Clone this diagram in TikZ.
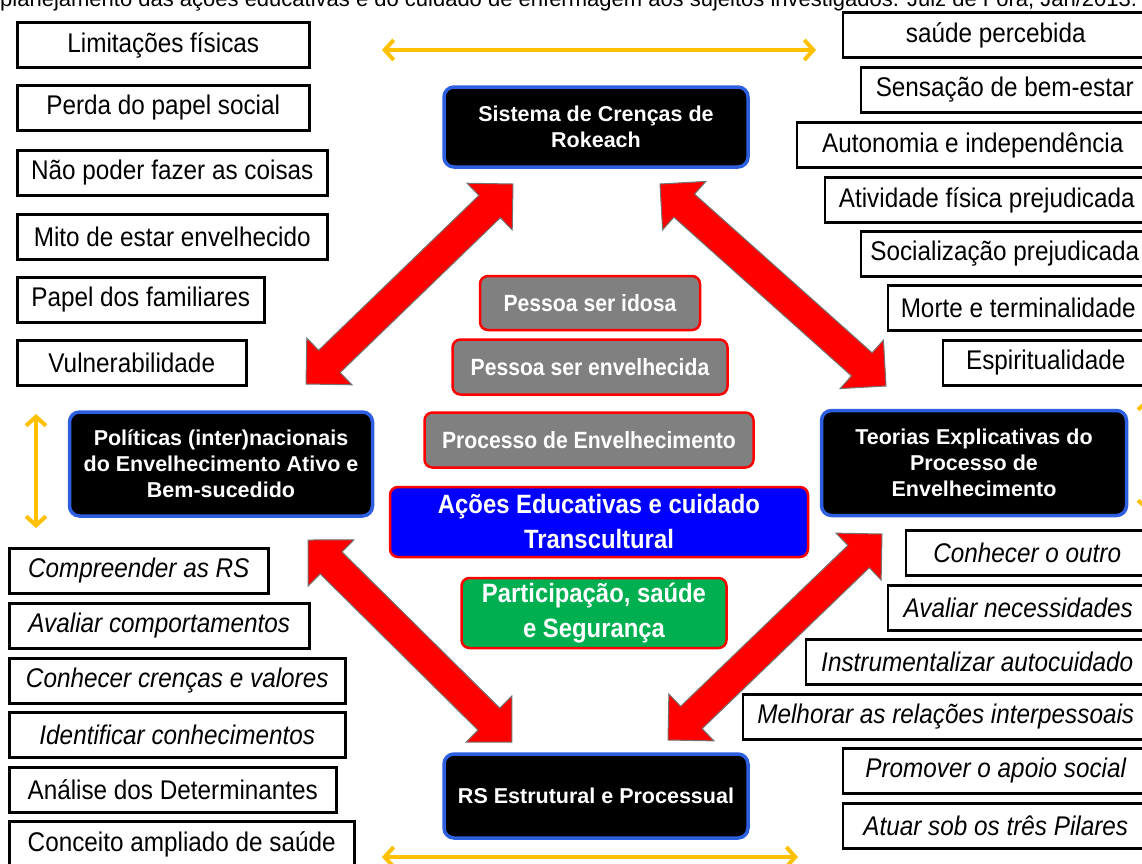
\documentclass[tikz,border=0pt]{standalone}
\usepackage{fontspec}
\setmainfont{Liberation Sans}
\newfontfamily\narrowfont[FakeStretch=0.9]{Liberation Sans}
\usetikzlibrary{shapes.arrows,calc,arrows.meta}
\definecolor{frameblue}{RGB}{45,95,225}
\definecolor{arrowyellow}{RGB}{255,192,0}
\definecolor{boxgray}{RGB}{128,128,128}
\definecolor{boxgreen}{RGB}{0,176,80}
\definecolor{boxblue}{RGB}{0,0,255}
\tikzset{
  item/.style={draw,line width=2.5pt,minimum height=45pt,inner sep=0pt,font=\narrowfont\fontsize{27}{32}\selectfont},
  itemit/.style={item,font=\narrowfont\itshape\fontsize{27}{32}\selectfont},
  theme/.style={draw=frameblue,fill=black,text=white,line width=3.5pt,rounded corners=10pt,align=center,inner sep=0pt,font=\bfseries\fontsize{21.5}{26}\selectfont},
  core/.style={draw=red,line width=2.5pt,rounded corners=8pt,text=white,align=center,inner sep=0pt},
  redarrow/.style={double arrow,fill=red,draw=black!55,line width=1pt,inner sep=0pt,inner ysep=15pt,double arrow head extend=17pt},
  yellowarrow/.style={draw=arrowyellow,line width=4pt,{Straight Barb[length=9pt,width=20pt]}-{Straight Barb[length=9pt,width=20pt]}}
}
\begin{document}
\begin{tikzpicture}[x=1pt,y=-1pt]
        \useasboundingbox (0,0) rectangle (1142,863);
        %% caption line, cut at the top
        \node[anchor=base west,inner sep=0pt,font=\fontsize{22}{26}\selectfont] (caption) at (0,6) {planejamento das ações educativas e do cuidado de enfermagem aos sujeitos investigados. Juiz de Fora, Jan/2013.};
        %% left list, top
        \node[item,anchor=west,minimum width=292pt] (lim) at (16,45) {Limitações físicas};
        \node[item,anchor=west,minimum width=292pt] (perda) at (16,108) {Perda do papel social};
        \node[item,anchor=west,minimum width=310pt] (naopoder) at (16,173) {Não poder fazer as coisas};
        \node[item,anchor=west,minimum width=310pt] (mito) at (16,237) {Mito de estar envelhecido};
        \node[item,anchor=west,minimum width=247pt] (familia) at (16,300) {Papel dos familiares};
        \node[item,anchor=west,minimum width=229pt] (vuln) at (16,363) {Vulnerabilidade};
        %% right list, top
        \node[item,anchor=east,minimum width=306pt] (percebida) at (1150,35) {saúde percebida};
        \node[item,anchor=east,minimum width=288pt] (bemestar) at (1150,90) {Sensação de bem-estar};
        \node[item,anchor=east,minimum width=352pt] (autonomia) at (1150,145) {Autonomia e independência};
        \node[item,anchor=east,minimum width=324pt] (atividade) at (1150,200) {Atividade física prejudicada};
        \node[item,anchor=east,minimum width=288pt] (socializ) at (1150,254) {Socialização prejudicada};
        \node[item,anchor=east,minimum width=261pt] (morte) at (1150,308) {Morte e terminalidade};
        \node[item,anchor=east,minimum width=206pt] (espirit) at (1150,363) {Espiritualidade};
        %% left list, bottom
        \node[itemit,anchor=west,minimum width=259pt] (compreender) at (8,571) {Compreender as RS};
        \node[itemit,anchor=west,minimum width=300pt] (comport) at (8,626) {Avaliar comportamentos};
        \node[itemit,anchor=west,minimum width=336pt] (crencas) at (8,681) {Conhecer crenças e valores};
        \node[itemit,anchor=west,minimum width=336pt] (conhec) at (8,735) {Identificar conhecimentos};
        \node[item,anchor=west,minimum width=327pt] (determ) at (8,790) {Análise dos Determinantes};
        \node[item,anchor=west,minimum width=345pt] (conceito) at (8,844) {Conceito ampliado de saúde};
        %% right list, bottom
        \node[itemit,anchor=east,minimum width=243pt] (outro) at (1150,553) {Conhecer o outro};
        \node[itemit,anchor=east,minimum width=261pt] (necess) at (1150,608) {Avaliar necessidades};
        \node[itemit,anchor=east,minimum width=343pt] (autocuid) at (1150,662) {Instrumentalizar autocuidado};
        \node[itemit,anchor=east,minimum width=406pt] (relacoes) at (1150,717) {Melhorar as relações interpessoais};
        \node[itemit,anchor=east,minimum width=306pt] (apoio) at (1150,771) {Promover o apoio social};
        \node[itemit,anchor=east,minimum width=306pt] (pilares) at (1150,826) {Atuar sob os três Pilares};
        %% four themes
        \node[theme,minimum width=304pt,minimum height=80pt] (rokeach) at (596,127) {Sistema de Crenças de\\Rokeach};
        \node[theme,minimum width=303pt,minimum height=104pt] (politicas) at (221,464) {Políticas (inter)nacionais\\do Envelhecimento Ativo e\\Bem-sucedido};
        \node[theme,minimum width=305pt,minimum height=105pt] (teorias) at (974,463) {Teorias Explicativas do\\Processo de\\Envelhecimento};
        \node[theme,minimum width=304pt,minimum height=84pt] (estrutural) at (596,796) {RS Estrutural e Processual};
        %% centre
        \node[core,fill=boxgray,minimum width=220pt,minimum height=54pt,font=\narrowfont\bfseries\fontsize{23.5}{28}\selectfont] (idosa) at (590,303) {Pessoa ser idosa};
        \node[core,fill=boxgray,minimum width=275pt,minimum height=55pt,font=\narrowfont\bfseries\fontsize{23.5}{28}\selectfont] (envelhecida) at (590,367) {Pessoa ser envelhecida};
        \node[core,fill=boxgray,minimum width=329pt,minimum height=55pt,font=\narrowfont\bfseries\fontsize{23.5}{28}\selectfont] (processo) at (589,440) {Processo de Envelhecimento};
        \node[core,fill=boxblue,minimum width=418pt,minimum height=70pt,font=\narrowfont\bfseries\fontsize{26.5}{35}\selectfont] (acoes) at (599,522) {Ações Educativas e cuidado\\Transcultural};
        \node[core,fill=boxgreen,minimum width=265pt,minimum height=70pt,font=\narrowfont\bfseries\fontsize{26.5}{35}\selectfont] (particip) at (594,613) {Participação, saúde\\e Segurança};
        %% red arrows between the themes
        \coordinate (tl1) at (306,384); \coordinate (tl2) at (513,184);
        \coordinate (tr1) at (660,184); \coordinate (tr2) at (886,386);
        \coordinate (bl1) at (308,540); \coordinate (bl2) at (512,742);
        \coordinate (br1) at (668,740); \coordinate (br2) at (882,534);
        \foreach \a/\b in {tl1/tl2,tr1/tr2,bl1/bl2,br1/br2}
          \path let \p1=($(\b)-(\a)$), \n1={veclen(\x1,\y1)} in
            (\a) -- (\b) node[redarrow,midway,sloped,minimum height=\n1] {};
        %% yellow arrows
        \coordinate (topL) at (382,50); \coordinate (topR) at (816,50);
        \coordinate (botL) at (382,857); \coordinate (botR) at (798,857);
        \coordinate (leftT) at (36,414); \coordinate (leftB) at (36,528);
        \coordinate (rightT) at (1148,398); \coordinate (rightB) at (1148,512);
        \draw[yellowarrow] (topL) -- (topR);
        \draw[yellowarrow] (botL) -- (botR);
        \draw[yellowarrow] (leftT) -- (leftB);
        \draw[yellowarrow] (rightT) -- (rightB);
    \end{tikzpicture}
\end{document}
